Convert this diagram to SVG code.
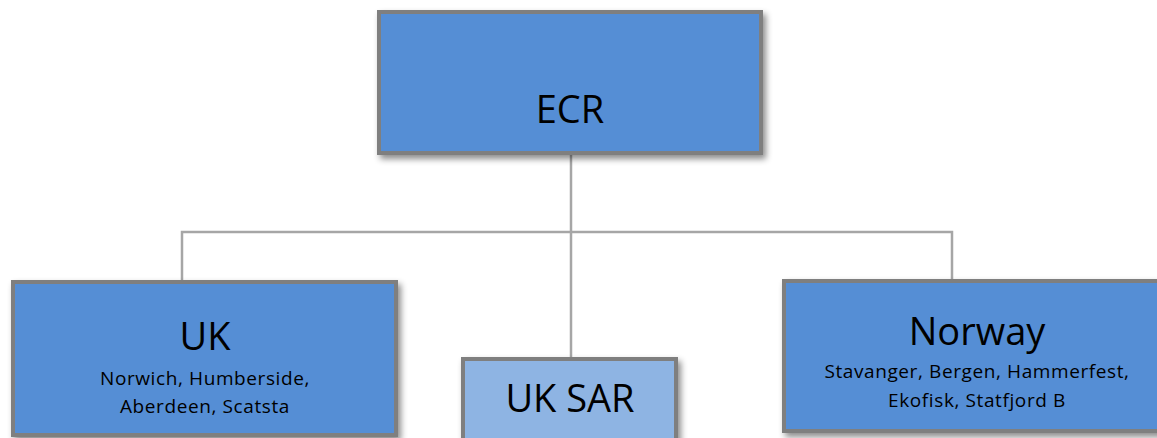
<svg xmlns="http://www.w3.org/2000/svg" width="1157" height="438" viewBox="0 0 1157 438">
<style>
.box{stroke:#7f7f7f;stroke-width:4;filter:url(#sh)}
.dark{fill:#558ed5}
.light{fill:#8eb4e3}
.conn{stroke:#a6a6a6;stroke-width:2.5;fill:none}
text{font-family:"Open Sans","Noto Sans",sans-serif;fill:#000;text-anchor:middle}
.big{font-size:38px}
.small{font-size:19px;letter-spacing:0.6px}
</style>
<defs>
<filter id="sh" x="-10%" y="-10%" width="125%" height="135%">
<feDropShadow dx="3" dy="4" stdDeviation="3" flood-color="#000" flood-opacity="0.45"/>
</filter>
</defs>
<rect width="1157" height="438" fill="#fff"/>
<g id="connectors">
<path class="conn" d="M571 155V357"/>
<path class="conn" d="M182 280V232H952V279"/>
</g>
<g id="ecr">
<rect class="box dark" x="379" y="12" width="382" height="141"/>
<text class="big" x="570" y="123">ECR</text>
</g>
<g id="uk">
<rect class="box dark" x="13" y="282" width="383" height="153"/>
<text class="big" x="205" y="350">UK</text>
<text class="small" x="205" y="385">Norwich, Humberside,</text>
<text class="small" x="205" y="413">Aberdeen, Scatsta</text>
</g>
<g id="uksar">
<rect class="box light" x="463" y="359" width="213" height="100"/>
<text class="big" x="570" y="412">UK SAR</text>
</g>
<g id="norway">
<rect class="box dark" x="784" y="281" width="386" height="150"/>
<text class="big" x="977" y="345">Norway</text>
<text class="small" x="977" y="378">Stavanger, Bergen, Hammerfest,</text>
<text class="small" x="977" y="407">Ekofisk, Statfjord B</text>
</g>
</svg>
